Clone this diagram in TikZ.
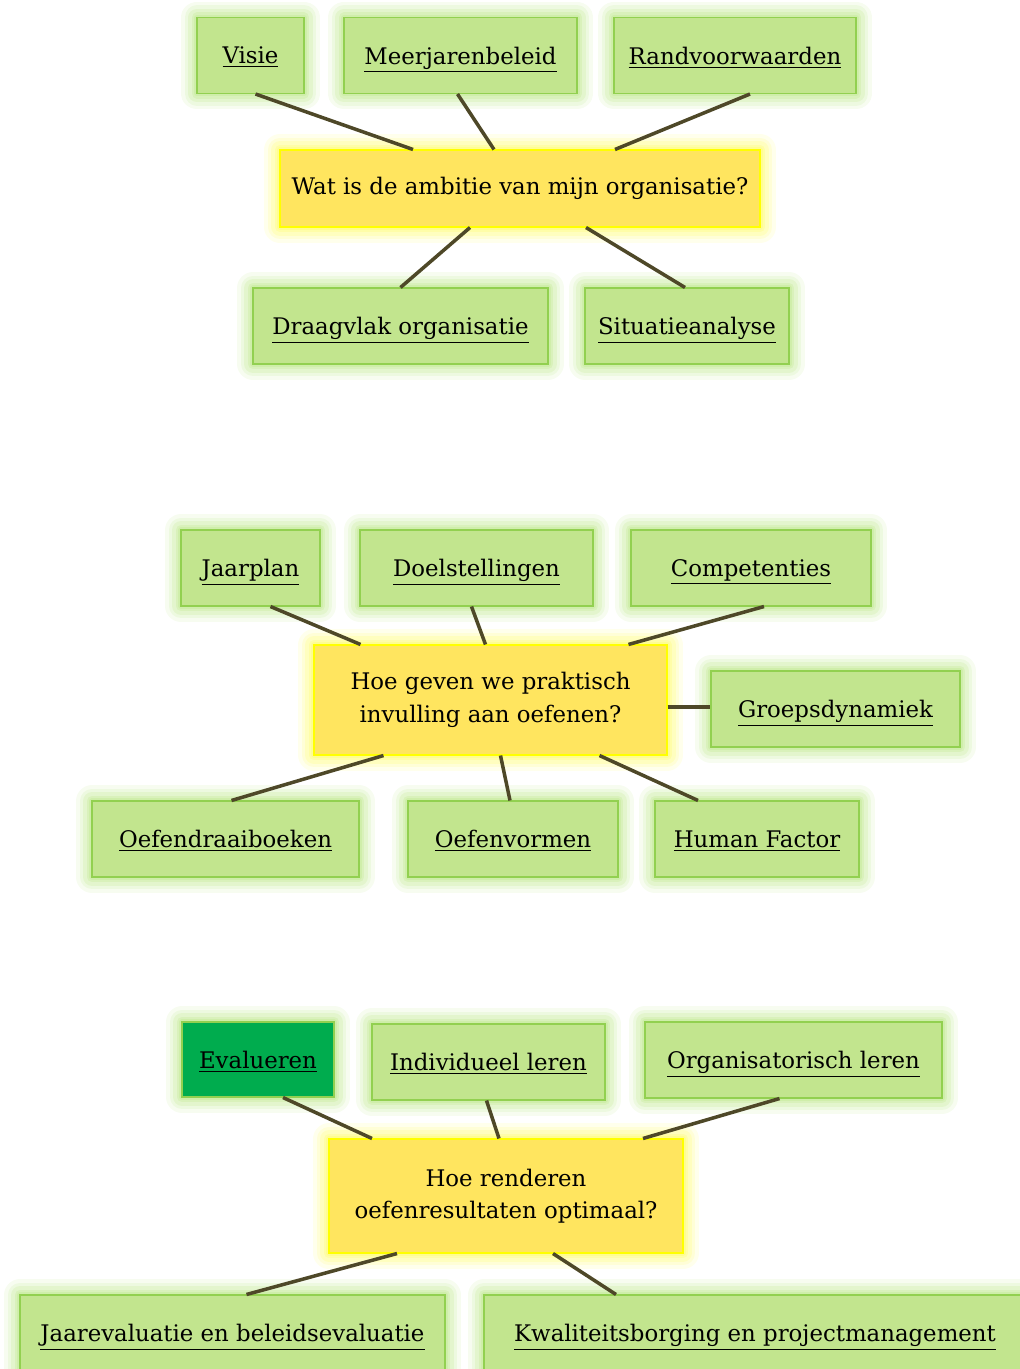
\documentclass[tikz,border=0pt]{standalone}
\usepackage{fontspec}
\setmainfont{DejaVu Serif}
\usetikzlibrary{calc}

\definecolor{topicfill}{RGB}{194,229,142}
\definecolor{topicline}{RGB}{146,208,80}
\definecolor{topicglow}{RGB}{196,234,150}
\definecolor{questfill}{RGB}{255,229,95}
\definecolor{questline}{RGB}{255,255,0}
\definecolor{questglow}{RGB}{255,252,120}
\definecolor{activefill}{RGB}{0,172,78}
\definecolor{linkcolor}{RGB}{78,72,40}

\def\px{0.02cm}

\begin{document}
\begin{tikzpicture}[x=\px, y=-\px]
      \tikzstyle{glow}=[preaction={draw=#1, line width=18pt, opacity=0.14, line join=round},
                        preaction={draw=#1, line width=14pt, opacity=0.18, line join=round},
                        preaction={draw=#1, line width=10pt, opacity=0.25, line join=round},
                        preaction={draw=#1, line width=6pt, opacity=0.33, line join=round},
                        preaction={draw=#1, line width=3pt, opacity=0.45, line join=round}]
      \tikzstyle{box}=[rectangle, line width=0.6pt, minimum height=76*\px, inner sep=0pt,
                       font=\fontsize{13}{18.5}\selectfont, align=center]
      \tikzstyle{topic}=[box, fill=topicfill, draw=topicline, glow=topicglow, text depth=0pt]
      \tikzstyle{active topic}=[topic, fill=activefill]
      \tikzstyle{question}=[box, fill=questfill, draw=questline, glow=questglow]
      \tikzstyle{link}=[draw=linkcolor, line width=2pt]

      \useasboundingbox (0,0) rectangle (1020,1369);
      \clip (0,0) rectangle (1020,1369);

      % Draw the first block: ambitie
      \node[question, minimum width=480*\px, minimum height=77*\px] (Q-1) at (520,188.5) {Wat is de ambitie van mijn organisatie?};
      \node[topic, minimum width=107*\px] (A-VISIE) at (250.5,55.5) {\underline{Visie}};
      \node[topic, minimum width=233*\px] (A-BELEID) at (460.5,55.5) {\underline{Meerjarenbeleid}};
      \node[topic, minimum width=242*\px] (A-RAND) at (735,55.5) {\underline{Randvoorwaarden}};
      \node[topic, minimum width=295*\px] (A-DRAAG) at (400.5,326) {\underline{Draagvlak organisatie}};
      \node[topic, minimum width=204*\px] (A-SIT) at (687,326) {\underline{Situatieanalyse}};

      \draw[link] ([xshift=5*\px]A-VISIE.south) -- ([xshift=-107*\px]Q-1.north);
      \draw[link] ([xshift=-3*\px]A-BELEID.south) -- ([xshift=-26*\px]Q-1.north);
      \draw[link] ([xshift=15*\px]A-RAND.south) -- ([xshift=95*\px]Q-1.north);
      \draw[link] ([xshift=-50*\px]Q-1.south) -- (A-DRAAG.north);
      \draw[link] ([xshift=66*\px]Q-1.south) -- ([xshift=-2*\px]A-SIT.north);

      % Draw the second block: oefenen
      \node[question, minimum width=353*\px, minimum height=110*\px] (Q-2) at (490.5,700) {Hoe geven we praktisch\\invulling aan oefenen?};
      \node[topic, minimum width=139*\px] (B-JAAR) at (250.5,568) {\underline{Jaarplan}};
      \node[topic, minimum width=233*\px] (B-DOEL) at (476.5,568) {\underline{Doelstellingen}};
      \node[topic, minimum width=240*\px] (B-COMP) at (751,568) {\underline{Competenties}};
      \node[topic, minimum width=249*\px] (B-GROEP) at (835.5,709) {\underline{Groepsdynamiek}};
      \node[topic, minimum width=267*\px] (B-DRAAI) at (225.5,839) {\underline{Oefendraaiboeken}};
      \node[topic, minimum width=210*\px] (B-VORM) at (513,839) {\underline{Oefenvormen}};
      \node[topic, minimum width=204*\px] (B-HUMAN) at (757,839) {\underline{Human Factor}};

      \draw[link] ([xshift=20*\px]B-JAAR.south) -- ([xshift=-130*\px]Q-2.north);
      \draw[link] ([xshift=-5*\px]B-DOEL.south) -- ([xshift=-5*\px]Q-2.north);
      \draw[link] ([xshift=13*\px]B-COMP.south) -- ([xshift=138*\px]Q-2.north);
      \draw[link] ([yshift=-7*\px]Q-2.east) -- ([yshift=2*\px]B-GROEP.west);
      \draw[link] ([xshift=-107*\px]Q-2.south) -- ([xshift=6*\px]B-DRAAI.north);
      \draw[link] ([xshift=10*\px]Q-2.south) -- ([xshift=-3*\px]B-VORM.north);
      \draw[link] ([xshift=109*\px]Q-2.south) -- ([xshift=-59*\px]B-HUMAN.north);

      % Draw the third block: resultaten
      \node[question, minimum width=354*\px, minimum height=114*\px] (Q-3) at (506,1196) {Hoe renderen\\oefenresultaten optimaal?};
      \node[active topic, minimum width=152*\px, minimum height=75*\px] (C-EVAL) at (258,1059.5) {\underline{Evalueren}};
      \node[topic, minimum width=233*\px] (C-IND) at (488.5,1062) {\underline{Individueel leren}};
      \node[topic, minimum width=297*\px] (C-ORG) at (793.5,1060) {\underline{Organisatorisch leren}};
      \node[topic, minimum width=425*\px] (C-JAAR) at (232.5,1333) {\underline{Jaarevaluatie en beleidsevaluatie}};
      \node[topic, minimum width=542*\px] (C-KWAL) at (755,1333) {\underline{Kwaliteitsborging en projectmanagement}};

      \draw[link] ([xshift=25*\px]C-EVAL.south) -- ([xshift=-134*\px]Q-3.north);
      \draw[link] ([xshift=-2*\px]C-IND.south) -- ([xshift=-7*\px]Q-3.north);
      \draw[link] ([xshift=-14*\px]C-ORG.south) -- ([xshift=137*\px]Q-3.north);
      \draw[link] ([xshift=-109*\px]Q-3.south) -- ([xshift=14*\px]C-JAAR.north);
      \draw[link] ([xshift=47*\px]Q-3.south) -- ([xshift=-139*\px]C-KWAL.north);
\end{tikzpicture}
\end{document}
